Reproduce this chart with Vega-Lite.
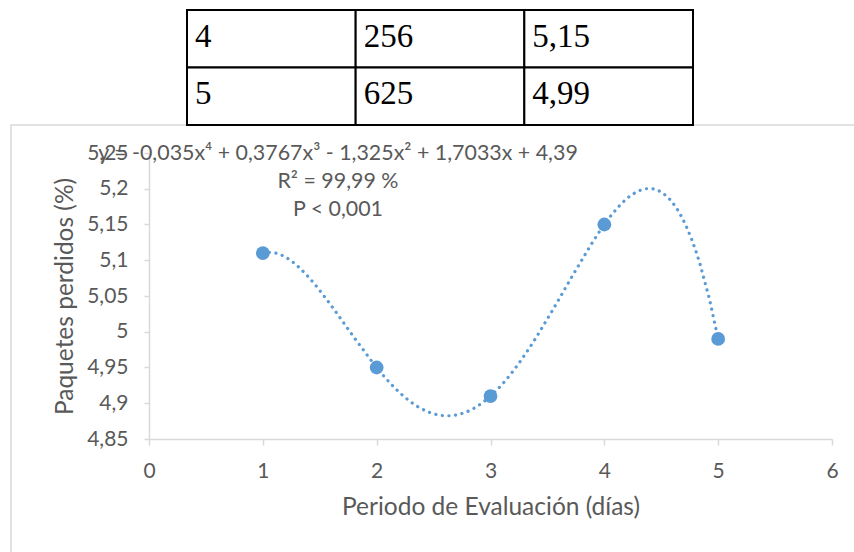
{
  "$schema": "https://vega.github.io/schema/vega-lite/v6.json",
  "width": 683,
  "height": 286,
  "autosize": {"type": "none"},
  "padding": {"left": 149, "top": 153, "right": 22, "bottom": 113},
  "background": "white",
  "config": {
    "view": {"stroke": null},
    "font": "Lato",
    "axis": {
      "labelFont": "Lato",
      "titleFont": "Lato",
      "labelColor": "#595959",
      "titleColor": "#595959",
      "titleFontWeight": "normal",
      "domainColor": "#d9d9d9",
      "domainWidth": 1.5,
      "tickColor": "#d9d9d9",
      "tickWidth": 1.5,
      "grid": false,
      "labelOverlap": false,
      "labelFlush": false
    }
  },
  "layer": [
    {
      "layer": [
        {
          "data": {"values": [{}]},
          "mark": {"type": "rect", "fillOpacity": 0, "stroke": "#d9d9d9", "strokeWidth": 1.5, "clip": false},
          "encoding": {
            "x": {"datum": -1.212, "type": "quantitative"},
            "x2": {"datum": 6.5},
            "y": {"datum": 5.289, "type": "quantitative"},
            "y2": {"datum": 4.5}
          }
        },
        {
          "data": {"name": "puntos", "values": [
            {"x": 1, "y": 5.11},
            {"x": 2, "y": 4.95},
            {"x": 3, "y": 4.91},
            {"x": 4, "y": 5.15},
            {"x": 5, "y": 4.99}
          ]},
          "layer": [
            {
              "transform": [{"regression": "y", "on": "x", "method": "poly", "order": 4, "extent": [1, 5]}],
              "mark": {"type": "line", "color": "#5B9BD5", "strokeWidth": 3.2, "strokeDash": [0.1, 6.5], "strokeCap": "round", "clip": false},
              "encoding": {
                "x": {"field": "x", "type": "quantitative"},
                "y": {"field": "y", "type": "quantitative"}
              }
            },
            {
              "mark": {"type": "circle", "size": 190, "color": "#5B9BD5", "opacity": 1},
              "encoding": {
                "x": {
                  "field": "x", "type": "quantitative",
                  "scale": {"domain": [0, 6], "nice": false, "zero": false},
                  "axis": {
                    "title": "Periodo de Evaluación (días)",
                    "values": [0, 1, 2, 3, 4, 5, 6],
                    "tickCount": 20,
                    "labelExpr": "format(datum.value, 'd')",
                    "labelOverlap": false,
                    "labelFlush": false,
                    "tickSize": 6,
                    "labelFontSize": 21,
                    "labelPadding": 15,
                    "titleFontSize": 24.5,
                    "titlePadding": 14
                  }
                },
                "y": {
                  "field": "y", "type": "quantitative",
                  "scale": {"domain": [4.85, 5.25], "nice": false, "zero": false},
                  "axis": {
                    "title": "Paquetes perdidos (%)",
                    "values": [4.85, 4.9, 4.95, 5, 5.05, 5.1, 5.15, 5.2, 5.25],
                    "tickCount": 20,
                    "labelExpr": "replace(format(datum.value, '.2~f'), '.', ',')",
                    "labelOverlap": false,
                    "labelFlush": false,
                    "tickSize": 5,
                    "labelFontSize": 21,
                    "labelPadding": 16,
                    "titleFontSize": 24.5,
                    "titlePadding": 9
                  }
                }
              }
            }
          ]
        },
        {
          "data": {"values": [
            {"linea": "y = -0,035x⁴ + 0,3767x³ - 1,325x² + 1,7033x + 4,39", "px": 1.66, "py": 5.248},
            {"linea": "R² = 99,99 %", "px": 1.66, "py": 5.2094},
            {"linea": "P < 0,001", "px": 1.66, "py": 5.17}
          ]},
          "mark": {"type": "text", "align": "center", "baseline": "middle", "fontSize": 21.4, "color": "#595959", "font": "Lato", "clip": false},
          "encoding": {
            "x": {"field": "px", "type": "quantitative"},
            "y": {"field": "py", "type": "quantitative"},
            "text": {"field": "linea"}
          }
        }
      ]
    },
    {
      "data": {"values": [
        {"dia": "4", "paquetes": "256", "porcentaje": "5,15"},
        {"dia": "5", "paquetes": "625", "porcentaje": "4,99"}
      ]},
      "transform": [{"fold": ["dia", "paquetes", "porcentaje"], "as": ["columna", "valor"]}],
      "layer": [
        {
          "mark": {"type": "rect", "fill": "white", "stroke": "black", "strokeWidth": 2, "clip": false},
          "encoding": {
            "x": {"field": "columna", "type": "nominal", "axis": null,
                  "scale": {"domain": ["dia", "paquetes", "porcentaje"], "range": [38, 544], "paddingInner": 0, "paddingOuter": 0}},
            "y": {"field": "dia", "type": "nominal", "axis": null,
                  "scale": {"domain": ["4", "5"], "range": [-143, -28], "paddingInner": 0, "paddingOuter": 0}}
          }
        },
        {
          "mark": {"type": "text", "align": "left", "baseline": "middle", "dx": 8, "dy": -2, "font": "Liberation Serif", "fontSize": 33, "color": "black", "clip": false},
          "encoding": {
            "x": {"field": "columna", "type": "nominal", "bandPosition": 0},
            "y": {"field": "dia", "type": "nominal", "bandPosition": 0.5},
            "text": {"field": "valor"}
          }
        }
      ]
    }
  ],
  "resolve": {"scale": {"x": "independent", "y": "independent"}}
}
